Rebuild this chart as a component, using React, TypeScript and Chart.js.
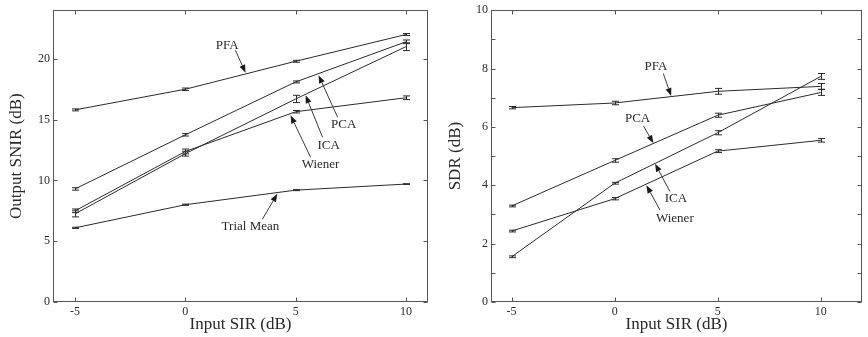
import React, { useEffect, useRef } from 'react';
import { Chart, registerables } from 'chart.js';

Chart.register(...registerables);

// ---------- data ----------
const inputSIR = [-5, 0, 5, 10];
const xTickValues = [-5, 0, 5, 10];

// Left panel: Output SNIR (dB)
const snirPFA = [15.8, 17.5, 19.8, 22.0];
const snirPCA = [9.3, 13.75, 18.1, 21.4];
const snirICA = [7.25, 12.2, 16.7, 21.0];
const snirWiener = [7.5, 12.38, 15.65, 16.8];
const snirTrialMean = [6.1, 8.0, 9.2, 9.7];
const snirErrPFA = [0.08, 0.1, 0.08, 0.08];
const snirErrPCA = [0.1, 0.1, 0.08, 0.15];
const snirErrICA = [0.25, 0.2, 0.3, 0.32];
const snirErrWiener = [0.15, 0.2, 0.1, 0.15];
const snirErrTrialMean = [0.05, 0.05, 0.04, 0.03];
const snirTickValues = [0, 5, 10, 15, 20];

// Right panel: SDR (dB)
const sdrPFA = [6.66, 6.82, 7.22, 7.39];
const sdrPCA = [3.29, 4.85, 6.4, 7.18];
const sdrICA = [1.55, 4.07, 5.8, 7.73];
const sdrWiener = [2.43, 3.54, 5.17, 5.54];
const sdrErrPFA = [0.04, 0.06, 0.1, 0.1];
const sdrErrPCA = [0.03, 0.06, 0.07, 0.1];
const sdrErrICA = [0.03, 0.03, 0.07, 0.1];
const sdrErrWiener = [0.03, 0.04, 0.05, 0.06];
const sdrTickValues = [0, 1, 2, 3, 4, 5, 6, 7, 8, 9, 10];
const sdrLabelledTicks = [0, 2, 4, 6, 8, 10];

// Annotations (data coordinates)
const snirNoteText = ['PFA', 'PCA', 'ICA', 'Wiener', 'Trial Mean'];
const snirNoteAt = [[1.9, 21.1], [7.18, 14.6], [6.5, 12.9], [6.13, 11.3], [2.95, 6.24]];
const snirArrowFrom = [[2.27, 20.7], [6.9, 15.2], [6.22, 13.55], [5.68, 11.9], [3.49, 6.8]];
const snirArrowTo = [[2.73, 18.85], [6.04, 18.65], [5.45, 17.0], [4.77, 15.35], [4.17, 8.9]];

const sdrNoteText = ['PFA', 'PCA', 'ICA', 'Wiener'];
const sdrNoteAt = [[2.0, 8.07], [1.11, 6.27], [2.97, 3.55], [2.92, 2.87]];
const sdrArrowFrom = [[2.36, 7.83], [1.4, 6.03], [2.68, 3.79], [2.2, 3.15]];
const sdrArrowTo = [[2.74, 7.06], [1.88, 5.44], [1.96, 4.74], [1.54, 4.0]];

// ---------- styling ----------
const FONT = "'Liberation Serif', 'Times New Roman', serif";
const INK = '#2a2a2a';
const AXIS_INK = '#555';

const errorBarPlugin = {
  id: 'errorBars',
  afterDatasetsDraw(chart: any) {
    const ctx = chart.ctx;
    const ys = chart.scales.y;
    ctx.save();
    ctx.strokeStyle = INK;
    ctx.lineWidth = 1;
    chart.data.datasets.forEach((ds: any, di: number) => {
      if (!ds.errors) return;
      const meta = chart.getDatasetMeta(di);
      meta.data.forEach((pt: any, i: number) => {
        const v = ds.data[i].y;
        const e = ds.errors[i];
        const x = Math.round(pt.x) + 0.5;
        const y1 = ys.getPixelForValue(v - e);
        const y2 = ys.getPixelForValue(v + e);
        ctx.beginPath();
        ctx.moveTo(x, y1);
        ctx.lineTo(x, y2);
        ctx.moveTo(x - 3.5, y1);
        ctx.lineTo(x + 3.5, y1);
        ctx.moveTo(x - 3.5, y2);
        ctx.lineTo(x + 3.5, y2);
        ctx.stroke();
      });
    });
    ctx.restore();
  },
};

const framePlugin = {
  id: 'frame',
  afterDraw(chart: any) {
    const ctx = chart.ctx;
    const { left, right, top, bottom } = chart.chartArea;
    const L = Math.round(left) + 0.5;
    const R = Math.round(right) - 0.5;
    const T = Math.round(top) + 0.5;
    const B = Math.round(bottom) - 0.5;
    ctx.save();
    ctx.strokeStyle = AXIS_INK;
    ctx.lineWidth = 1;
    ctx.strokeRect(L, T, R - L, B - T);
    const tl = 4;
    ctx.beginPath();
    chart.scales.x.ticks.forEach((t: any) => {
      const x = Math.round(chart.scales.x.getPixelForValue(t.value)) + 0.5;
      ctx.moveTo(x, B);
      ctx.lineTo(x, B - tl);
      ctx.moveTo(x, T);
      ctx.lineTo(x, T + tl);
    });
    chart.scales.y.ticks.forEach((t: any) => {
      const y = Math.round(chart.scales.y.getPixelForValue(t.value)) + 0.5;
      ctx.moveTo(L, y);
      ctx.lineTo(L + tl, y);
      ctx.moveTo(R, y);
      ctx.lineTo(R - tl, y);
    });
    ctx.stroke();
    ctx.restore();
  },
};

const notesPlugin = {
  id: 'notes',
  afterDatasetsDraw(chart: any, _args: any, opts: any) {
    if (!opts || !opts.text) return;
    const ctx = chart.ctx;
    const xs = chart.scales.x;
    const ys = chart.scales.y;
    ctx.save();
    ctx.fillStyle = INK;
    ctx.strokeStyle = '#3a3a3a';
    ctx.lineWidth = 1;
    ctx.font = `13px ${FONT}`;
    ctx.textAlign = 'center';
    ctx.textBaseline = 'middle';
    opts.text.forEach((txt: string, i: number) => {
      const tx = xs.getPixelForValue(opts.at[i][0]);
      const ty = ys.getPixelForValue(opts.at[i][1]);
      ctx.fillStyle = INK;
      ctx.fillText(txt, tx, ty);
      const x1 = xs.getPixelForValue(opts.from[i][0]);
      const y1 = ys.getPixelForValue(opts.from[i][1]);
      const x2 = xs.getPixelForValue(opts.to[i][0]);
      const y2 = ys.getPixelForValue(opts.to[i][1]);
      const ang = Math.atan2(y2 - y1, x2 - x1);
      const hl = 8;
      const hw = 3;
      const bx = x2 - hl * Math.cos(ang);
      const by = y2 - hl * Math.sin(ang);
      ctx.beginPath();
      ctx.moveTo(x1, y1);
      ctx.lineTo(bx, by);
      ctx.stroke();
      ctx.fillStyle = '#1a1a1a';
      ctx.beginPath();
      ctx.moveTo(x2, y2);
      ctx.lineTo(bx + hw * Math.sin(ang), by - hw * Math.cos(ang));
      ctx.lineTo(bx - hw * Math.sin(ang), by + hw * Math.cos(ang));
      ctx.closePath();
      ctx.fill();
    });
    ctx.restore();
  },
};

function series(values: number[], errors: number[]) {
  return {
    data: inputSIR.map((x, i) => ({ x, y: values[i] })),
    errors,
    borderColor: INK,
    borderWidth: 1,
    pointRadius: 0,
    fill: false,
    tension: 0,
  };
}

function makeConfig(p: any) {
  return {
    type: 'line',
    data: { datasets: p.datasets },
    plugins: [errorBarPlugin, framePlugin, notesPlugin],
    options: {
      responsive: false,
      animation: false,
      layout: { padding: { top: 7, right: p.padRight, left: 0, bottom: 0 } },
      plugins: {
        legend: { display: false },
        tooltip: { enabled: false },
        notes: p.notes,
      },
      scales: {
        x: {
          type: 'linear',
          min: p.xMin,
          max: p.xMax,
          afterBuildTicks: (axis: any) => {
            axis.ticks = xTickValues.map((v) => ({ value: v }));
          },
          afterFit: (axis: any) => {
            axis.height = 35;
          },
          grid: { display: false, drawTicks: false },
          border: { display: false },
          ticks: {
            padding: 3,
            color: INK,
            font: { family: FONT, size: 12 },
            callback: (v: any) => String(v),
          },
          title: {
            display: true,
            text: 'Input SIR (dB)',
            color: INK,
            font: { family: FONT, size: 17 },
            padding: { top: 0, bottom: 2 },
          },
        },
        y: {
          type: 'linear',
          min: 0,
          max: p.yMax,
          afterBuildTicks: (axis: any) => {
            axis.ticks = p.yTicks.map((v: number) => ({ value: v }));
          },
          afterFit: (axis: any) => {
            axis.width = p.yWidth;
          },
          grid: { display: false, drawTicks: false },
          border: { display: false },
          ticks: {
            padding: 3,
            color: INK,
            font: { family: FONT, size: 12 },
            autoSkip: false,
            callback: (v: any) => (p.yLabelled.includes(v) ? String(v) : ''),
          },
          title: {
            display: true,
            text: p.yTitle,
            color: INK,
            font: { family: FONT, size: 17 },
            padding: { top: p.yTitlePad, bottom: 0 },
          },
        },
      },
    },
  };
}

function Panel(props: { config: any; left: number }) {
  const ref = useRef<HTMLCanvasElement | null>(null);
  useEffect(() => {
    if (!ref.current) return;
    const chart = new Chart(ref.current, props.config);
    return () => chart.destroy();
  }, []);
  return (
    <canvas
      ref={ref}
      width={434}
      height={337}
      style={{ position: 'absolute', left: props.left, top: 0, width: 434, height: 337 }}
    />
  );
}

export default function App() {
  const leftConfig = makeConfig({
    datasets: [
      series(snirPFA, snirErrPFA),
      series(snirPCA, snirErrPCA),
      series(snirICA, snirErrICA),
      series(snirWiener, snirErrWiener),
      series(snirTrialMean, snirErrTrialMean),
    ],
    notes: { text: snirNoteText, at: snirNoteAt, from: snirArrowFrom, to: snirArrowTo },
    xMin: -6,
    xMax: 11,
    yMax: 24,
    yTicks: snirTickValues,
    yLabelled: snirTickValues,
    yWidth: 53,
    padRight: 6,
    yTitle: 'Output SNIR (dB)',
    yTitlePad: 6,
  });
  const rightConfig = makeConfig({
    datasets: [
      series(sdrPFA, sdrErrPFA),
      series(sdrPCA, sdrErrPCA),
      series(sdrICA, sdrErrICA),
      series(sdrWiener, sdrErrWiener),
    ],
    notes: { text: sdrNoteText, at: sdrNoteAt, from: sdrArrowFrom, to: sdrArrowTo },
    xMin: -6,
    xMax: 12,
    yMax: 10,
    yTicks: sdrTickValues,
    yLabelled: sdrLabelledTicks,
    yWidth: 57,
    padRight: 6,
    yTitle: 'SDR (dB)',
    yTitlePad: 11,
  });
  return (
    <div style={{ position: 'fixed', left: 0, top: 0, width: 868, height: 337, background: '#fff' }}>
      <Panel config={leftConfig} left={0} />
      <Panel config={rightConfig} left={434} />
    </div>
  );
}
